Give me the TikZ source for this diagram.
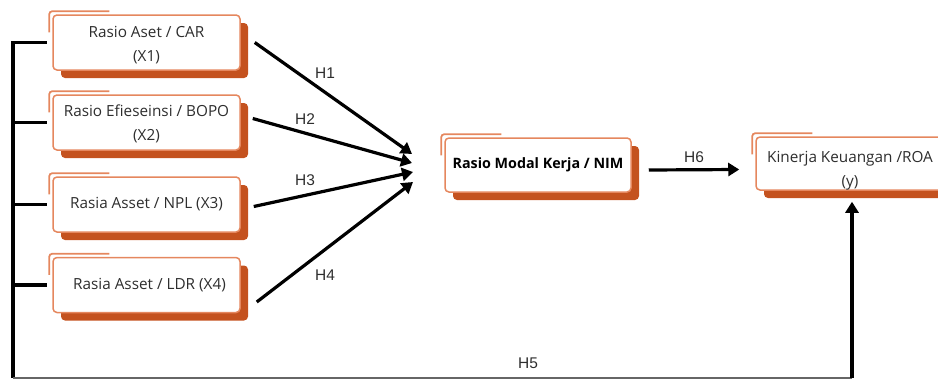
\documentclass[tikz,border=0pt]{standalone}
\usepackage{fontspec}
\setmainfont{Open Sans}
\newfontfamily\hypfont{Liberation Sans}
\usetikzlibrary{arrows.meta,shadows,calc}
\definecolor{edgeorange}{HTML}{E5875E}
\definecolor{shadeorange}{HTML}{C4521F}
\definecolor{textgray}{HTML}{2E2E2E}

\tikzset{
  varbox/.style={draw=edgeorange, line width=1.5pt, fill=white,
    rounded corners=4pt, minimum width=187pt, minimum height=55pt,
    align=center, text=textgray, inner sep=2pt,
    font=\fontsize{15.3}{24}\selectfont,
    drop shadow={shadow xshift=8pt, shadow yshift=-8pt,
      fill=shadeorange, opacity=1, rounded corners=4pt}},
  link/.style={line width=3.2pt, -{Triangle[length=11pt,width=13pt]}},
  bracket/.style={line width=3.2pt},
  hyp/.style={font=\hypfont\fontsize{15.5}{17}\selectfont, text=textgray, inner sep=1pt}
}
% thin offset frame at the upper left corner of a box
\newcommand\cornermark[1]{%
  \draw[edgeorange, line width=1.8pt, rounded corners=3pt]
    ([xshift=-3pt,yshift=-18pt]#1.north west) --
    ([xshift=-3pt,yshift=3pt]#1.north west) --
    ([xshift=57pt,yshift=3pt]#1.north west);}
% two centred lines, set a little below the middle of a box
\newcommand\lowpair[3]{\raisebox{#3}[\height][\depth]{\begin{tabular}{@{}c@{}}#1\\[0pt]#2\end{tabular}}}

\begin{document}
\begin{tikzpicture}[x=1pt,y=-1pt]
  \useasboundingbox (0,0) rectangle (938,380);
  \clip (0,0) rectangle (938,380);

  % independent variables
  \node[varbox] (x1) at (146.5,42.5) {\lowpair{Rasio Aset / CAR}{(X1)}{-2pt}};
  \node[varbox] (x2) at (146.5,122.5) {\lowpair{Rasio Efieseinsi / BOPO}{(X2)}{-1pt}};
  \node[varbox] (x3) at (146.5,204.5) {Rasia Asset / NPL (X3)};
  \node[varbox] (x4) at (146.5,285) {\hspace*{6pt}Rasia Asset / LDR (X4)};

  % intervening and dependent variables
  \node[varbox, minimum width=186pt, minimum height=54pt, text=black,
        font=\bfseries\fontsize{14.3}{18}\selectfont] (nim) at (538,165)
        {Rasio Modal Kerja / NIM};
  \node[varbox, minimum width=188pt, minimum height=53pt] (roa) at (850,163.5)
        {\lowpair{Kinerja Keuangan /ROA}{(y)}{-6pt}};

  \foreach \b in {x1,x2,x3,x4,nim,roa} {\cornermark{\b}}

  % arrow tips in front of the NIM box
  \coordinate (t1) at (412,154);
  \coordinate (t2) at (412,163);
  \coordinate (t3) at (413,172);
  \coordinate (t4) at (413,182);

  \draw[link] ([xshift=14pt,yshift=0pt]x1.east) -- (t1);
  \draw[link] ([xshift=12pt,yshift=4pt]x2.east) -- (t2);
  \draw[link] ([xshift=13pt,yshift=-2pt]x3.east) -- (t3);
  \draw[link] ([xshift=16pt,yshift=-17pt]x4.east) -- (t4);
  \draw[link] ([xshift=17pt,yshift=-5pt]nim.east) -- ([xshift=-16pt,yshift=-6pt]roa.west);

  \node[hyp] at (325,73) {H1};
  \node[hyp] at (305,119) {H2};
  \node[hyp] at (305,180) {H3};
  \node[hyp] at (325,275) {H4};
  \node[hyp] at (694,157) {H6};
  \node[hyp] at (528,363) {H5};

  % left bracket joining X1..X4 directly to ROA
  \coordinate (top) at (13,41);
  \coordinate (bl) at (13,378);
  \coordinate (br) at (852,378);
  \draw[bracket] (top) -- (bl);
  \foreach \b in {x1,x2,x3,x4} {
    \draw[bracket] (11.4,0 |- \b.west) -- ([xshift=-5pt]\b.west);
  }
  \draw[gray!80!black, line width=1.5pt] (bl) -- (br);
  \draw[link] (br) -- ([xshift=2pt,yshift=-11pt]roa.south);
\end{tikzpicture}
\end{document}
